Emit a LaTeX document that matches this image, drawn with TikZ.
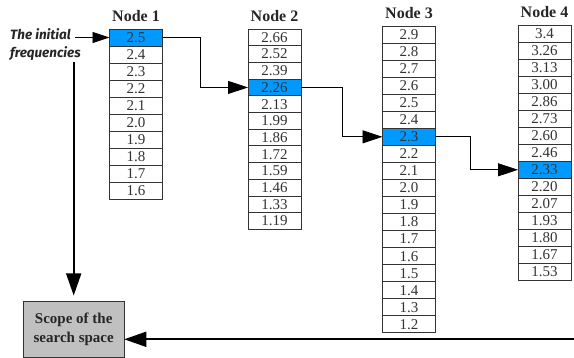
\documentclass[tikz,border=0pt]{standalone}
\usepackage{fontspec}
\setmainfont{Liberation Serif}
\newfontfamily\lblfont{Fira Sans}
\usepackage{tikz}
\usetikzlibrary{positioning,arrows.meta}
\definecolor{CellBlue}{HTML}{0099FF}
\definecolor{ScopeGrey}{HTML}{C0C0C0}
\definecolor{CellLine}{HTML}{333333}

\begin{document}
\begin{tikzpicture}[x=1pt,y=-1pt,>={Triangle[length=20pt,width=13pt]},node distance=7pt]
  \tikzstyle{cell}=[draw=CellLine,line width=0.8pt,inner sep=0pt,outer sep=0pt,
    minimum width=53pt,minimum height=17pt,anchor=north,text=CellLine,
    font=\fontsize{15}{15}\selectfont]
  \tikzstyle{head}=[inner sep=0pt,text=black!85,font=\fontsize{16}{16}\selectfont\bfseries]
  \tikzstyle{link}=[->,line width=0.8pt]
  \tikzstyle{bigarrow}=[line width=1.6pt,-{Triangle[length=22pt,width=15pt]}]
  \useasboundingbox (0,0) rectangle (574,358);
  % node 1
  \foreach \v [count=\i] in {2.5,2.4,2.3,2.2,2.1,2.0,1.9,1.8,1.7,1.6}{
    \ifnum\i=1 \def\cc{CellBlue}\else\def\cc{white}\fi
    \node[cell,fill=\cc] (n1-\i) at (136,{29+17*(\i-1)}) {\v};
  }
  % node 2
  \foreach \v [count=\i] in {2.66,2.52,2.39,2.26,2.13,1.99,1.86,1.72,1.59,1.46,1.33,1.19}{
    \ifnum\i=4 \def\cc{CellBlue}\else\def\cc{white}\fi
    \node[cell,minimum height=16.7pt,fill=\cc] (n2-\i) at (274.5,{29+16.7*(\i-1)}) {\v};
  }
  % node 3
  \foreach \v [count=\i] in {2.9,2.8,2.7,2.6,2.5,2.4,2.3,2.2,2.1,2.0,1.9,1.8,1.7,1.6,1.5,1.4,1.3,1.2}{
    \ifnum\i=7 \def\cc{CellBlue}\else\def\cc{white}\fi
    \node[cell,minimum height=17.05pt,fill=\cc] (n3-\i) at (409,{26+17.05*(\i-1)}) {\v};
  }
  % node 4
  \foreach \v [count=\i] in {3.4,3.26,3.13,3.00,2.86,2.73,2.60,2.46,2.33,2.20,2.07,1.93,1.80,1.67,1.53}{
    \ifnum\i=9 \def\cc{CellBlue}\else\def\cc{white}\fi
    \node[cell,fill=\cc] (n4-\i) at (544.5,{25.3+17*(\i-1)}) {\v};
  }
  \node[head,above=of n1-1] (h1) {Node 1};
  \node[head,above=of n2-1] (h2) {Node 2};
  \node[head,above=of n3-1] (h3) {Node 3};
  \node[head,above=of n4-1] (h4) {Node 4};

  \node[inner sep=0pt,anchor=north west,align=left,text=black!85,
    font=\lblfont\fontsize{13.5}{18.3}\selectfont\bfseries\itshape] (lbl) at (10,28)
    {The initial\\frequencies};
  \node[draw=CellLine,fill=ScopeGrey,inner sep=0pt,minimum width=100.7pt,minimum height=55.6pt,
    align=center,text=black!85,font=\fontsize{15}{18.5}\selectfont\bfseries] (scope) at (73.7,329.5)
    {Scope of the\\search space};

  \draw[link] (n1-1.east) -- ++(38,0) |- (n2-4.west);
  \draw[link] (n2-4.east) -- ++(41,0) |- (n3-7.west);
  \draw[link] (n3-7.east) -- ++(35,0) |- (n4-9.west);

  \coordinate (ini) at (75,37.5);
  \draw[line width=0.8pt,-{Triangle[length=17pt,width=11pt]}] (ini) -- (n1-1.west);
  \coordinate (down) at (73.7,62);
  \draw[bigarrow,shorten >=6pt] (down) -- (scope.north);
  \coordinate (back) at (574,339.3);
  \draw[bigarrow] (back) -- (back -| scope.east);
\end{tikzpicture}
\end{document}
